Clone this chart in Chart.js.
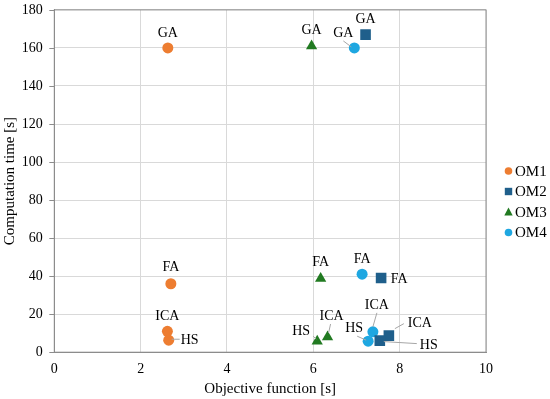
<!DOCTYPE html>
<html>
<head>
<meta charset="utf-8">
<script src="https://cdn.jsdelivr.net/npm/chart.js@4"></script>
<style>
  html, body { margin: 0; padding: 0; background: #fff; }
  #wrap { width: 550px; height: 399px; }
</style>
</head>
<body>
<div id="wrap"><canvas id="chart"></canvas></div>
<script>
// methods in the same order for every series
const methods = ["GA", "FA", "ICA", "HS"];
const seriesNames = ["OM1", "OM2", "OM3", "OM4"];

const om1X = [2.63, 2.70, 2.62, 2.65];
const om1Y = [160, 36, 11, 6.3];
const om2X = [7.21, 7.57, 7.75, 7.54];
const om2Y = [167, 39, 8.7, 6.1];
const om3X = [5.96, 6.17, 6.33, 6.09];
const om3Y = [161, 38.8, 8, 5.8];
const om4X = [6.95, 7.13, 7.38, 7.27];
const om4Y = [160, 41, 10.7, 5.8];

const xTicks = [0, 2, 4, 6, 8, 10];
const yTicks = [0, 20, 40, 60, 80, 100, 120, 140, 160, 180];

const FONT = "'Liberation Serif', 'Times New Roman', serif";

function pts(xs, ys) {
    return xs.map((x, i) => ({ x: x, y: ys[i] }));
}

// label placement: [dx, dy] from the point, optional leader line [x1,y1,x2,y2] offsets
const labelPlace = [
    [[0, -15], [0, -16], [0, -15], [21, 0, 3, -1, 11, -1]],
    [[0, -15], [18, 1], [31, -12, 6, -7, 15, -12], [49, 5, 4, 1, 37, 3]],
    [[0, -16], [0, -16], [4, -21, 1, -4, 3, -13], [-16, -10, -4, -5, -1, -2]],
    [[-11, -15, -11, -7, -3, -1], [0, -15], [4, -27, 0, -5, 4, -19], [-14, -13, -11, -5, -2, -1]]
];

const pointLabels = {
    id: "pointLabels",
    afterDatasetsDraw(chart) {
        const ctx = chart.ctx;
        ctx.save();
        ctx.font = "14px " + FONT;
        ctx.textAlign = "center";
        ctx.textBaseline = "middle";
        chart.data.datasets.forEach((ds, di) => {
            const meta = chart.getDatasetMeta(di);
            meta.data.forEach((el, i) => {
                const p = labelPlace[di][i];
                if (p.length > 2) {
                    ctx.strokeStyle = "#a6a6a6";
                    ctx.lineWidth = 1;
                    ctx.beginPath();
                    ctx.moveTo(el.x + p[2], el.y + p[3]);
                    ctx.lineTo(el.x + p[4], el.y + p[5]);
                    ctx.stroke();
                }
                ctx.fillStyle = "#000";
                ctx.fillText(methods[i], el.x + p[0], el.y + p[1]);
            });
        });
        ctx.restore();
    }
};

// grey frame round the plot and short tick marks left of the y axis
const plotBorder = {
    id: "plotBorder",
    beforeDatasetsDraw(chart) {
        const a = chart.chartArea;
        const ctx = chart.ctx;
        ctx.save();
        ctx.strokeStyle = "#8c8c8c";
        ctx.lineWidth = 1;
        ctx.strokeRect(a.left, a.top, a.right - a.left, a.bottom - a.top);
        ctx.beginPath();
        yTicks.forEach(v => {
            const y = Math.round(chart.scales.y.getPixelForValue(v)) + 0.5;
            ctx.moveTo(a.left - 5, y);
            ctx.lineTo(a.left, y);
        });
        ctx.stroke();
        ctx.restore();
    }
};

// legend on the right, drawn by hand so the markers stay small
const sideLegend = {
    id: "sideLegend",
    afterDraw(chart) {
        const ctx = chart.ctx;
        const x = chart.chartArea.right + 22.5;
        ctx.save();
        ctx.font = "15px " + FONT;
        ctx.textAlign = "left";
        ctx.textBaseline = "middle";
        chart.data.datasets.forEach((ds, i) => {
            const y = 171 + i * 20.5;
            ctx.fillStyle = ds.backgroundColor;
            ctx.beginPath();
            if (ds.pointStyle === "rect") {
                ctx.rect(x - 3.7, y - 3.7, 7.4, 7.4);
            } else if (ds.pointStyle === "triangle") {
                ctx.moveTo(x, y - 4.5);
                ctx.lineTo(x + 4.2, y + 3.5);
                ctx.lineTo(x - 4.2, y + 3.5);
                ctx.closePath();
            } else {
                ctx.arc(x, y, 3.8, 0, Math.PI * 2);
            }
            ctx.fill();
            ctx.fillStyle = "#000";
            ctx.fillText(ds.label, x + 6.5, y + 1);
        });
        ctx.restore();
    }
};

new Chart(document.getElementById("chart"), {
    type: "scatter",
    data: {
        datasets: [
            { label: seriesNames[0], data: pts(om1X, om1Y), pointStyle: "circle", pointRadius: 5.5,
              borderWidth: 0, backgroundColor: "#ed7d31", borderColor: "#ed7d31" },
            { label: seriesNames[1], data: pts(om2X, om2Y), pointStyle: "rect", pointRadius: 7.5,
              borderWidth: 0, backgroundColor: "#1f5f8b", borderColor: "#1f5f8b" },
            { label: seriesNames[2], data: pts(om3X, om3Y), pointStyle: "triangle", pointRadius: 6.5,
              borderWidth: 0, backgroundColor: "#217a21", borderColor: "#217a21" },
            { label: seriesNames[3], data: pts(om4X, om4Y), pointStyle: "circle", pointRadius: 5.5,
              borderWidth: 0, backgroundColor: "#1ea7e1", borderColor: "#1ea7e1" }
        ]
    },
    options: {
        responsive: true,
        maintainAspectRatio: false,
        animation: false,
        layout: { padding: { top: 1, right: 64, left: 1.5, bottom: 1 } },
        plugins: {
            legend: { display: false },
            tooltip: { enabled: false }
        },
        scales: {
            x: {
                type: "linear",
                min: 0,
                max: 10,
                afterBuildTicks(axis) { axis.ticks = xTicks.map(v => ({ value: v })); },
                grid: { color: "#d9d9d9", tickColor: "rgba(0,0,0,0)", tickLength: 8 },
                border: { display: true, color: "#8c8c8c" },
                ticks: { color: "#000", padding: 1, font: { family: FONT, size: 14 } },
                title: { display: true, text: "Objective function [s]", color: "#000",
                         font: { family: FONT, size: 15 }, padding: { top: 1, bottom: 0 } }
            },
            y: {
                type: "linear",
                min: 0,
                max: 180,
                afterBuildTicks(axis) { axis.ticks = yTicks.map(v => ({ value: v })); },
                grid: { color: "#d9d9d9", tickColor: "rgba(0,0,0,0)", tickLength: 10 },
                border: { display: true, color: "#8c8c8c" },
                ticks: { color: "#000", padding: 1.5, font: { family: FONT, size: 14 } },
                title: { display: true, text: "Computation time [s]", color: "#000",
                         font: { family: FONT, size: 15 }, padding: { top: 0, bottom: 0.8 } }
            }
        }
    },
    plugins: [plotBorder, pointLabels, sideLegend]
});
</script>
</body>
</html>
